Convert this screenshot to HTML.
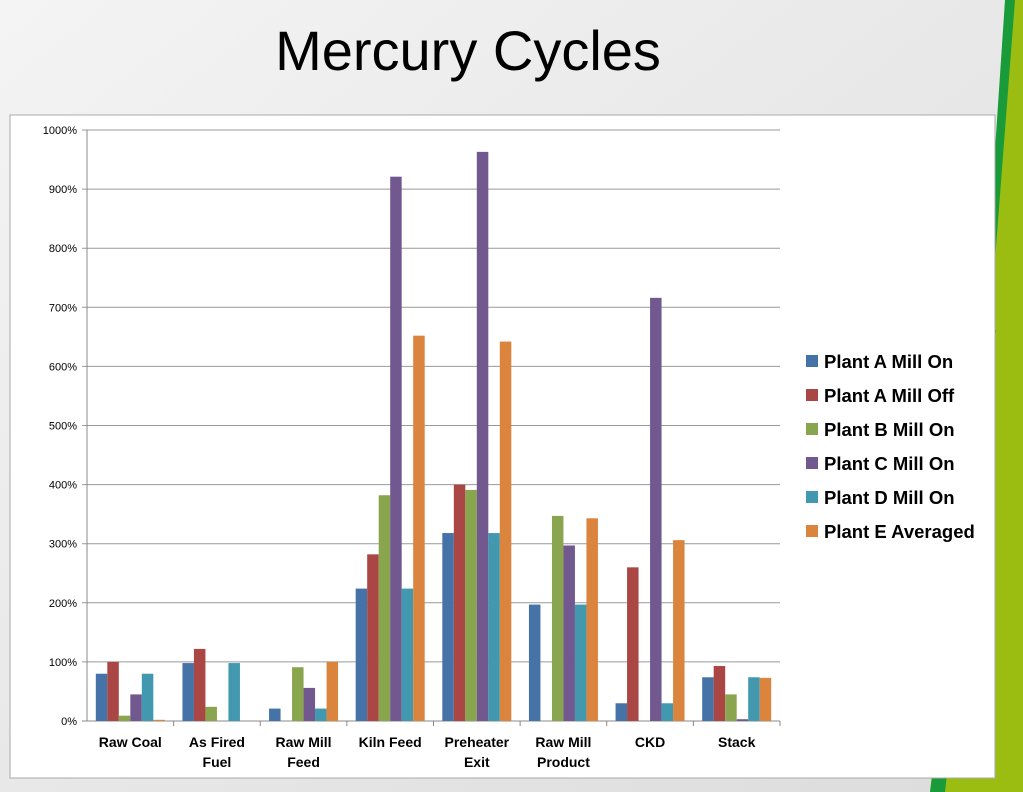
<!DOCTYPE html>
<html><head><meta charset="utf-8"><style>
body{margin:0;width:1023px;height:792px;overflow:hidden;font-family:"Liberation Sans",sans-serif;}
svg{display:block}
</style></head><body>
<svg id="s" width="1023" height="792" xmlns="http://www.w3.org/2000/svg">
<defs>
<linearGradient id="bg" x1="0" y1="0" x2="1" y2="1"><stop offset="0" stop-color="#f4f4f4"/><stop offset="1" stop-color="#dcdcdc"/></linearGradient>
</defs>
<rect width="1023" height="792" fill="url(#bg)"/>
<polygon points="1010,0 1023,0 1023,792 930,792 985,300" fill="#9bbd12"/>
<polygon points="1005,0 1015,0 995,260 985,300" fill="#1a9b3a"/>
<polygon points="930,792 945,792 996,330 990,330" fill="#1a9b3a"/>
<text x="468" y="70" font-size="56" text-anchor="middle" fill="#000">Mercury Cycles</text>
<rect x="10" y="115" width="985" height="663" fill="#fff" stroke="#aaa"/>
<g id="grid"></g><g id="bars"></g><g id="axes"></g><g id="legend"></g>
</svg>
<script>
const categories=[["Raw Coal"],["As Fired","Fuel"],["Raw Mill","Feed"],["Kiln Feed"],["Preheater","Exit"],["Raw Mill","Product"],["CKD"],["Stack"]];
const seriesNames=["Plant A Mill On","Plant A Mill Off","Plant B Mill On","Plant C Mill On","Plant D Mill On","Plant E Averaged"];
const colors=["#4572a7","#aa4643","#89a54e","#71588f","#4198af","#db843d"];
const plantAOn=[80,98,21,224,318,197,30,74];
const plantAOff=[100,122,0,282,400,0,260,93];
const plantBOn=[9,24,91,382,391,347,0,45];
const plantCOn=[45,0,56,921,963,297,716,3];
const plantDOn=[80,98,21,224,318,197,30,74];
const plantEAvg=[2,0,100,652,642,343,306,73];
const yTicks=[0,100,200,300,400,500,600,700,800,900,1000];
const series=[plantAOn,plantAOff,plantBOn,plantCOn,plantDOn,plantEAvg];
const NS="http://www.w3.org/2000/svg";
const X0=87,X1=780,Y0=721,Y1=130,YMAX=1000;
const cw=(X1-X0)/categories.length;
const y=v=>Y0-(v/YMAX)*(Y0-Y1);
function mk(t,a,p){const e=document.createElementNS(NS,t);for(const k in a)e.setAttribute(k,a[k]);p.appendChild(e);return e;}
const G=document.getElementById('grid'),B=document.getElementById('bars'),A=document.getElementById('axes'),L=document.getElementById('legend');
yTicks.forEach(t=>{
 const l=mk('line',{x1:X0-5,x2:X1,y1:y(t),y2:y(t),stroke:t===0?'#888':'#999','stroke-width':1},G);
 
 
 const tx=mk('text',{x:X0-10,y:y(t)+4,'font-size':11,'text-anchor':'end',fill:'#000'},A);
 tx.textContent=t+'%';
 
 
});
const ax=mk('line',{x1:X0,x2:X0,y1:Y1,y2:Y0,stroke:'#888'},A);


const bw=11.5;
categories.forEach((c,i)=>{
 const cx=X0+cw*i+cw/2;
 const tk=mk('line',{x1:X0+cw*(i+1),x2:X0+cw*(i+1),y1:Y0,y2:Y0+5,stroke:'#888'},A);
 
 
 c.forEach((ln,j)=>{
  const t=mk('text',{x:cx,y:Y0+26+j*20,'font-size':14,'font-weight':'bold','text-anchor':'middle',fill:'#000'},A);
  t.textContent=ln;
  
  
 });
 series.forEach((s,k)=>{
  const v=s[i];
  const r=mk('rect',{x:cx-3*bw+k*bw,y:y(v),width:bw,height:Y0-y(v),fill:colors[k]},B);
  
  
 });
});
seriesNames.forEach((n,k)=>{
 const yy=362+k*34;
 const r=mk('rect',{x:806,y:yy-7,width:12,height:12,fill:colors[k]},L);
 
 
 const t=mk('text',{x:824,y:yy+6,'font-size':18.5,'font-weight':'bold',fill:'#000'},L);
 t.textContent=n;
 
 
});
</script>
</body></html>
